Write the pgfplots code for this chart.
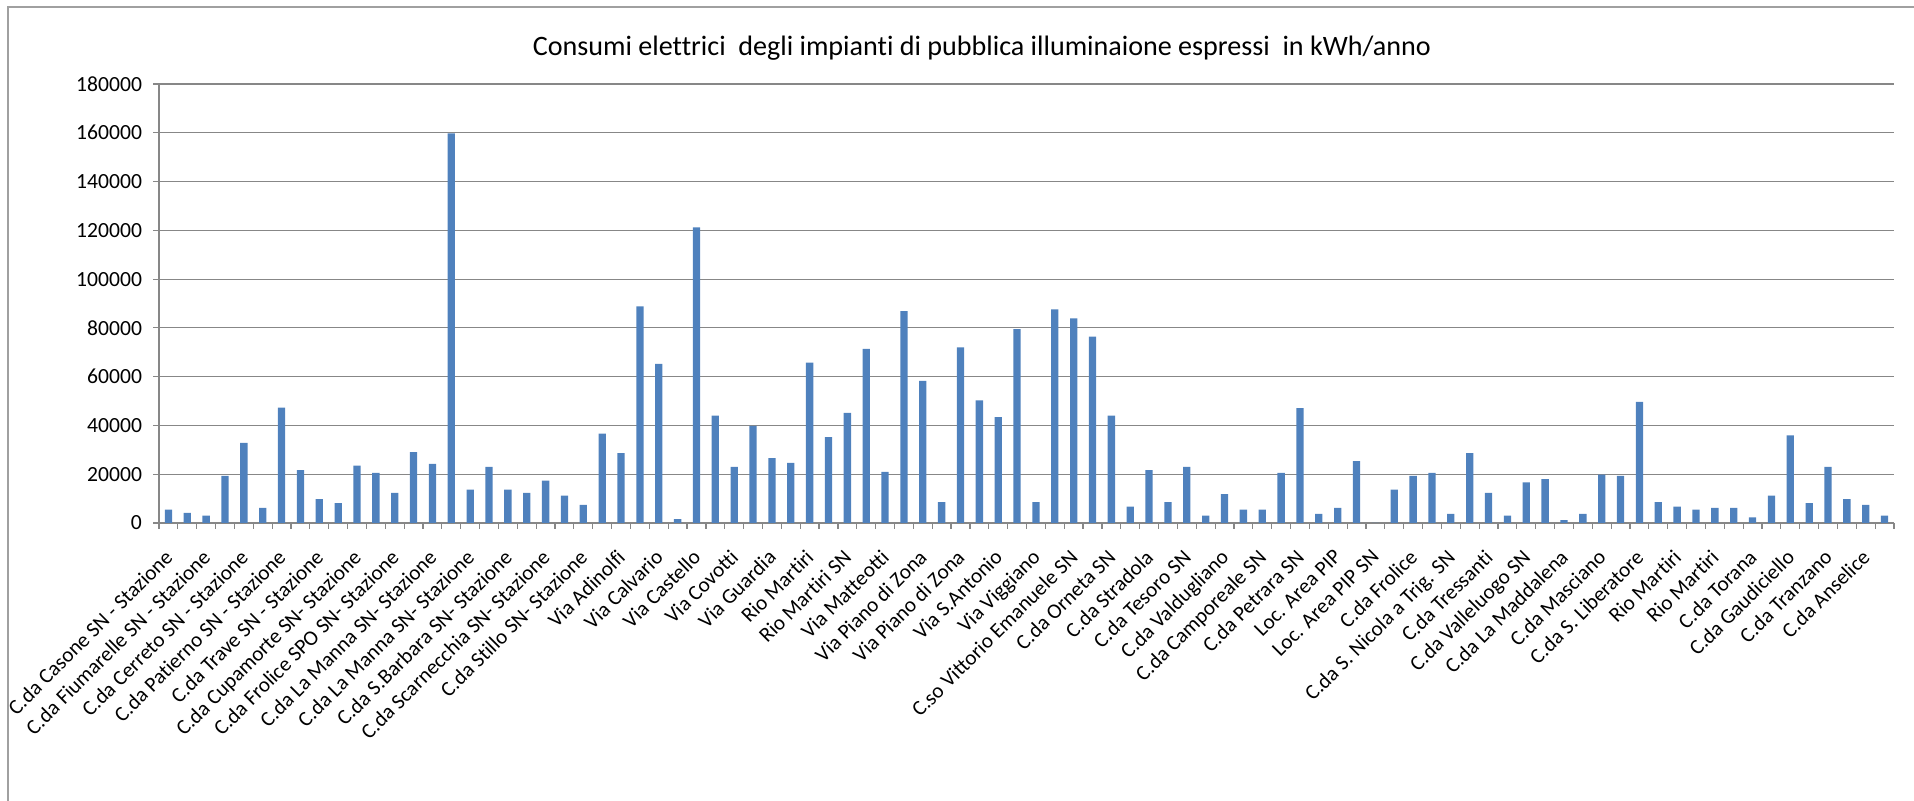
\documentclass[border=0pt]{standalone}
\usepackage{fontspec}
\setmainfont{Carlito}[Ligatures={NoCommon}]
\usepackage{pgfplots}
\pgfplotsset{compat=1.18}
\definecolor{barblue}{HTML}{4F81BD}
\definecolor{gridgray}{HTML}{878787}
\definecolor{framegray}{HTML}{A0A0A0}
\begin{document}
\begin{tikzpicture}
\useasboundingbox (0,0) rectangle (957pt,400.5pt);
\draw[framegray, line width=0.6pt] (4pt,0) -- (4pt,397pt) -- (957pt,397pt);
\node[font=\fontsize{14.05}{17}\selectfont, anchor=base] at (491pt,372.5pt) {Consumi elettrici\ \ degli impianti di pubblica illuminaione espressi\ \ in kWh/anno};
\begin{axis}[
  at={(79.5pt,139pt)}, anchor=south west,
  width=867.5pt, height=219.5pt, scale only axis,
  ybar, bar width=3.65pt,
  xmin=0.5, xmax=92.5, ymin=0, ymax=180000,
  ytick={0,20000,40000,60000,80000,100000,120000,140000,160000,180000},
  scaled y ticks=false,
  yticklabel style={/pgf/number format/fixed, /pgf/number format/1000 sep={}, /pgf/number format/assume math mode=true, font=\fontsize{10.8}{13}\selectfont, xshift=-2pt},
  axis x line*=bottom, axis y line*=left,
  axis line style={gridgray, line width=0.6pt, -},
  ymajorgrids, major grid style={gridgray, line width=0.6pt},
  tick align=outside, major tick length=3pt, minor tick length=3pt,
  ytick style={gridgray, line width=0.6pt},
  major x tick style={draw=none},
  minor x tick style={gridgray, line width=0.6pt},
  minor xtick={0.5,1.5,...,92.5},
  xtick={1,3,...,91},
  xticklabels={C.da Casone SN - Stazione, C.da Fiumarelle SN - Stazione, C.da Cerreto SN - Stazione, C.da Patierno SN - Stazione, C.da Trave SN - Stazione, C.da Cupamorte SN- Stazione, C.da Frolice SPO SN- Stazione, C.da La Manna SN- Stazione, C.da La Manna SN- Stazione, C.da S.Barbara SN- Stazione, C.da Scarnecchia SN- Stazione, C.da Stillo SN- Stazione, Via Adinolfi, Via Calvario, Via Castello, Via Covotti, Via Guardia, Rio Martiri, Rio Martiri SN, Via Matteotti, Via Piano di Zona, Via Piano di Zona, Via S.Antonio, Via Viggiano, C.so Vittorio Emanuele SN, C.da Orneta SN, C.da Stradola, C.da Tesoro SN, C.da Valdugliano, C.da Camporeale SN, C.da Petrara SN, Loc. Area PIP, Loc. Area PIP SN, C.da Frolice, C.da S. Nicola a Trig. SN, C.da Tressanti, C.da Valleluogo SN, C.da La Maddalena, C.da Masciano, C.da S. Liberatore, Rio Martiri, Rio Martiri, C.da Torana, C.da Gaudiciello, C.da Tranzano, C.da Anselice},
  xticklabel shift=8pt,
  xticklabel style={xshift=-2.5pt, rotate=45, anchor=north east, font=\fontsize{10.6}{12}\selectfont, inner sep=1pt},
]
\addplot[fill=barblue, draw=none] coordinates {
(1,5500) (2,4100) (3,3000) (4,19300) (5,32900) (6,6200) (7,47300) (8,21700) (9,9800) (10,8100)
(11,23500) (12,20500) (13,12400) (14,29100) (15,24200) (16,159800) (17,13700) (18,23000) (19,13700) (20,12400)
(21,17400) (22,11200) (23,7400) (24,36600) (25,28600) (26,88800) (27,65200) (28,1600) (29,121200) (30,44000)
(31,23000) (32,39800) (33,26600) (34,24700) (35,65800) (36,35200) (37,45200) (38,71400) (39,21000) (40,86900)
(41,58300) (42,8600) (43,72000) (44,50300) (45,43400) (46,79500) (47,8600) (48,87600) (49,83900) (50,76400)
(51,44000) (52,6700) (53,21700) (54,8600) (55,23000) (56,3000) (57,11800) (58,5500) (59,5500) (60,20500)
(61,47100) (62,3700) (63,6200) (64,25400) (65,0) (66,13700) (67,19300) (68,20500) (69,3700) (70,28600)
(71,12400) (72,3000) (73,16700) (74,18000) (75,1200) (76,3700) (77,19800) (78,19300) (79,49700) (80,8600)
(81,6700) (82,5500) (83,6200) (84,6200) (85,2300) (86,11200) (87,35900) (88,8100) (89,23000) (90,9800)
(91,7400) (92,3000)
};
\end{axis}
\end{tikzpicture}
\end{document}
